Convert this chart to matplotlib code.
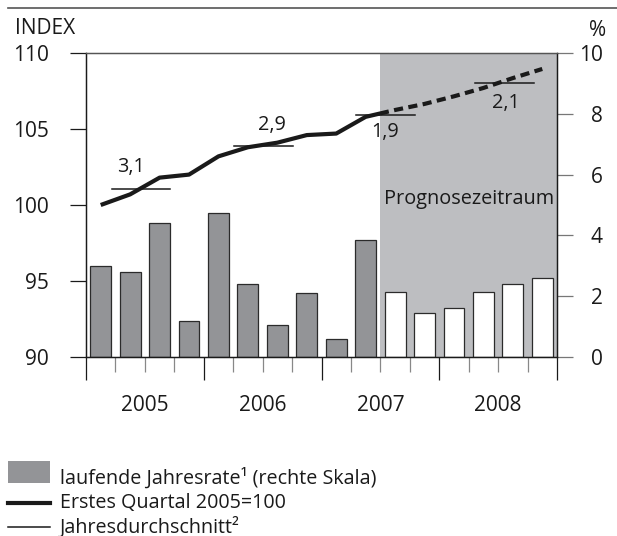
import numpy as np
import matplotlib
matplotlib.use("Agg")
import matplotlib.pyplot as plt
from matplotlib.patches import Rectangle
from matplotlib.lines import Line2D

plt.rcParams['font.family'] = ['Open Sans', 'DejaVu Sans']

# --- data (quarters 2005Q1 .. 2008Q4) ---
years = ['2005', '2006', '2007', '2008']
rate = [3.0, 2.8, 4.4, 1.2, 4.75, 2.4, 1.05, 2.1,
        0.6, 3.85, 2.15, 1.45, 1.6, 2.15, 2.4, 2.6]          # laufende Jahresrate (%)
index = [100.0, 100.7, 101.8, 102.0, 103.2, 103.8, 104.1, 104.6,
         104.7, 105.8, 106.25, 106.65, 107.15, 107.7, 108.35, 108.95]
annual_avg = [101.05, 103.9, 105.9, 108.0]
annual_growth = ['3,1', '2,9', '1,9', '2,1']
n_actual = 10   # quarters before forecast period

FILL_GRAY = '#939497'
SHADE = '#bdbec1'
EDGE = '#2b2b2b'
TXT = '#1a1a1a'

fig = plt.figure(figsize=(6.17, 5.36), dpi=100)
ax = fig.add_axes([86/617, 1-357/536, 471/617, 304/536])   # right scale (%)
axl = ax.twinx()                                            # left scale (INDEX)

x = np.arange(len(rate)) + 0.5
nq = len(rate)

# forecast shading
ax.axvspan(n_actual, nq, color=SHADE, lw=0, zorder=0)
ax.text((n_actual + nq) / 2, 5.2, 'Prognosezeitraum', ha='center', va='center',
        fontsize=14.3, color=TXT)

# bars
colors = [FILL_GRAY if i < n_actual else 'white' for i in range(nq)]
ax.bar(x, rate, width=0.71, color=colors, edgecolor=EDGE, linewidth=0.9, zorder=2)

# index line: solid until forecast, dashed after
solid, = axl.plot(x[:n_actual + 1], index[:n_actual + 1], color=TXT, lw=3.0,
                  solid_joinstyle='round', solid_capstyle='butt')
solid.set_clip_path(Rectangle((0, 0), n_actual, 1, transform=axl.get_xaxis_transform()))
dashed, = axl.plot(x[n_actual - 1:], index[n_actual - 1:], color=TXT, lw=3.0,
                   dashes=(2.2, 1.3))
dashed.set_clip_path(Rectangle((n_actual, 0), nq - n_actual, 1,
                               transform=axl.get_xaxis_transform()))

# annual averages
seg_start = [0.87, 5.03, 9.17, 13.21]
label_pos = [(1.53, 102.52), (6.31, 105.26), (10.16, 104.82), (14.27, 106.69)]
for x0, avg, lab, (lx, ly) in zip(seg_start, annual_avg, annual_growth, label_pos):
    axl.plot([x0, x0 + 2], [avg, avg], color=TXT, lw=1.1)
    axl.text(lx, ly, lab, ha='center', va='center', fontsize=14.3, color=TXT)

# axes limits and ticks
ax.set_xlim(0, nq)
ax.set_ylim(0, 10)
axl.set_ylim(90, 110)

ax.yaxis.tick_right()
ax.set_yticks([0, 2, 4, 6, 8, 10])
ax.tick_params(axis='y', direction='out', length=11.5, width=0.9, color='#777777',
               labelsize=15, pad=21.6, labelcolor=TXT)
for t in ax.get_yticklabels():
    t.set_horizontalalignment('right')

axl.yaxis.tick_left()
axl.set_yticks([90, 95, 100, 105, 110])
axl.tick_params(axis='y', direction='out', length=11.5, width=0.9, color=TXT,
                labelsize=15, pad=15.5, labelcolor=TXT)

ax.set_xticks([0, 4, 8, 12, 16])
ax.set_xticklabels([])
ax.set_xticks(np.arange(0, nq + 1), minor=True)
ax.tick_params(axis='x', which='major', direction='out', length=16.5, width=0.9,
               color=TXT)
ax.tick_params(axis='x', which='minor', direction='out', length=11, width=0.9,
               color='#888888')

for a in (ax, axl):
    for s in a.spines.values():
        s.set_linewidth(0.9)
        s.set_color(TXT)
    a.spines['top'].set_color('#555555')

for i, yr in enumerate(years):
    ax.text(4 * i + 2, -0.16, yr, transform=ax.get_xaxis_transform(),
            ha='center', va='center', fontsize=15, color=TXT)

# axis titles
fig.text(15/617, 1-28/536, 'INDEX', ha='left', va='center', fontsize=15, color=TXT)
fig.text(606/617, 1-30/536, '%', ha='right', va='center', fontsize=15, color=TXT)

# top rule
fig.add_artist(Line2D([8/617, 1], [1-8/536, 1-8/536], color='#555555', lw=1.2))

# legend (manual)
fig.add_artist(Rectangle((8/617, 1-482.5/536), 42/617, 22/536, color=FILL_GRAY, lw=0))
fig.add_artist(Line2D([8/617, 50/617], [1-503/536, 1-503/536], color=TXT, lw=3.0))
fig.add_artist(Line2D([8/617, 50/617], [1-527/536, 1-527/536], color=TXT, lw=1.1))
legend_text = ['laufende Jahresrate¹ (rechte Skala)', 'Erstes Quartal 2005=100',
               'Jahresdurchschnitt²']
for txt, yb in zip(legend_text, [484, 508, 532.5]):
    fig.text(60/617, 1-yb/536, txt, ha='left', va='baseline', fontsize=14.2, color=TXT)

fig.savefig('out.png', dpi=100)
